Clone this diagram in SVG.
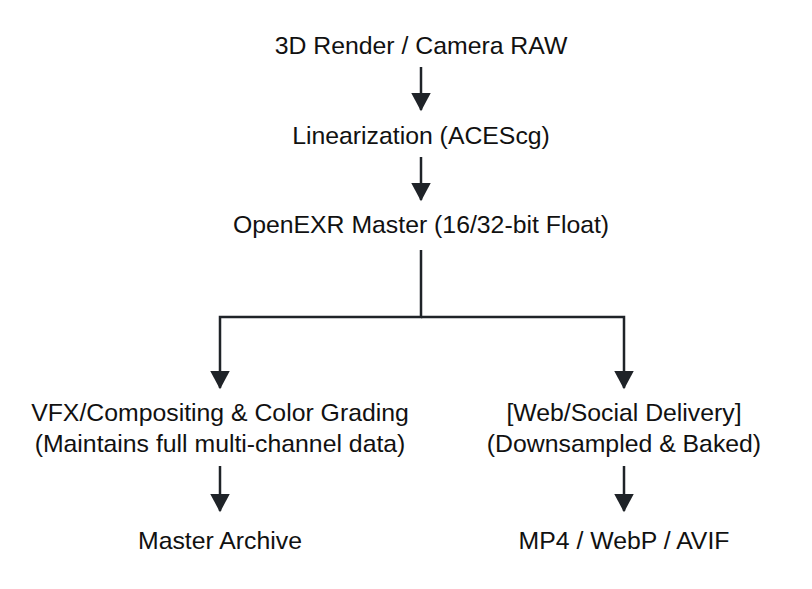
<svg xmlns="http://www.w3.org/2000/svg" width="812" height="589" viewBox="0 0 812 589">
<style>
text{font-family:"Liberation Sans",Arial,sans-serif;font-size:24.8px;fill:#111;text-anchor:middle}
.c{stroke:#1f2328;stroke-width:2.5;fill:none}
</style>
<defs><marker id="a" markerWidth="8" markerHeight="8" refX="7" refY="4" orient="auto" markerUnits="strokeWidth"><path d="M0,0L7.5,4L0,8z" fill="#1f2328"/></marker></defs>
<rect width="812" height="589" fill="#fff"/>
<g id="connectors">
<path class="c" d="M421,67V110" marker-end="url(#a)"/>
<path class="c" d="M421,157V200" marker-end="url(#a)"/>
<path class="c" d="M421,250V317H220V388" marker-end="url(#a)"/>
<path class="c" d="M421,317H624V388" marker-end="url(#a)"/>
<path class="c" d="M220,466V511" marker-end="url(#a)"/>
<path class="c" d="M624,466V511" marker-end="url(#a)"/>
</g>
<g id="n1"><text x="421" y="54">3D Render / Camera RAW</text></g>
<g id="n2"><text x="421" y="144">Linearization (ACEScg)</text></g>
<g id="n3"><text x="421" y="233">OpenEXR Master (16/32-bit Float)</text></g>
<g id="n4"><text x="220" y="421">VFX/Compositing &amp; Color Grading</text><text x="220" y="452">(Maintains full multi-channel data)</text></g>
<g id="n5"><text x="624" y="421">[Web/Social Delivery]</text><text x="624" y="452">(Downsampled &amp; Baked)</text></g>
<g id="n6"><text x="220" y="549">Master Archive</text></g>
<g id="n7"><text x="624" y="549">MP4 / WebP / AVIF</text></g>
</svg>
